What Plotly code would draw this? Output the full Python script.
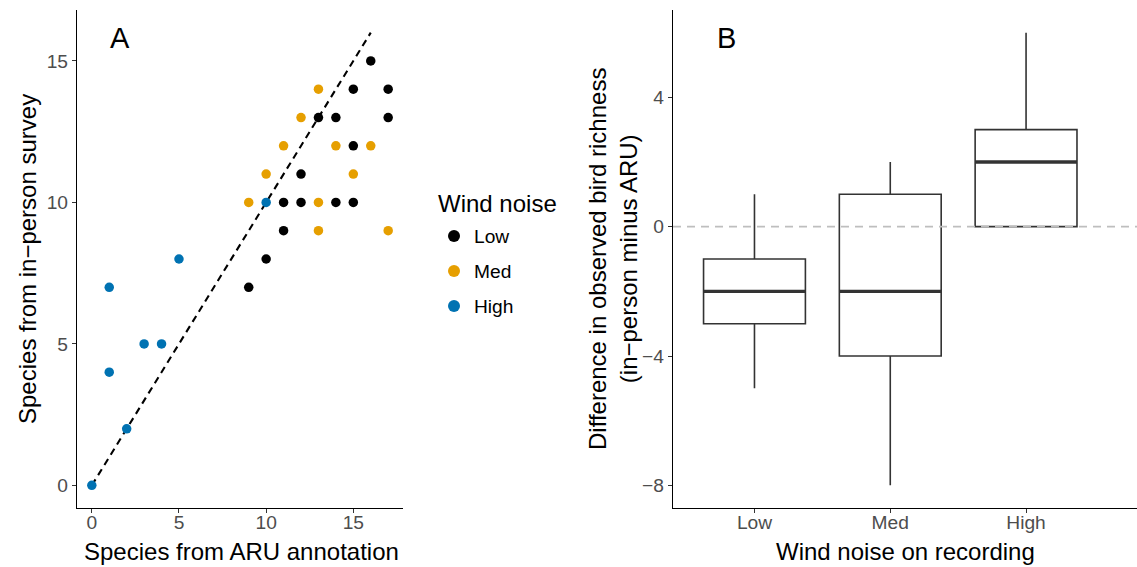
import plotly.graph_objects as go

# ---- Data: panel A (species counts) ----
low_aru = [16, 15, 17, 13, 14, 17, 15, 12, 11, 12, 14, 15, 11, 10, 9]
low_survey = [15, 14, 14, 13, 13, 13, 12, 11, 10, 10, 10, 10, 9, 8, 7]
med_aru = [13, 12, 11, 14, 16, 10, 15, 9, 13, 13, 17]
med_survey = [14, 13, 12, 12, 12, 11, 11, 10, 10, 9, 9]
high_aru = [10, 5, 1, 3, 4, 1, 2, 0]
high_survey = [10, 8, 7, 5, 5, 4, 2, 0]
ref_line = [0, 16]

# ---- Data: panel B (box statistics of difference) ----
wind_levels = ["Low", "Med", "High"]
box_lower = [-5, -8, 0]
box_q1 = [-3, -4, 0]
box_median = [-2, -2, 2]
box_q3 = [-1, 1, 3]
box_upper = [1, 2, 6]

FONT = "Liberation Sans, Arial, sans-serif"
W, H = 1137, 567
BOX_W = 0.75
TITLE_SIZE = 24
TICK_SIZE = 19.2

def px_x(p):
    return p / W

def px_y(p):
    return 1 - p / H

fig = go.Figure()

series = [
    ("Low", low_aru, low_survey, "#000000"),
    ("Med", med_aru, med_survey, "#E69F00"),
    ("High", high_aru, high_survey, "#0072B2"),
]

fig.add_trace(go.Scatter(
    x=ref_line, y=ref_line, mode="lines",
    line=dict(color="black", width=2.1, dash="7px,5px"),
    showlegend=False, xaxis="x", yaxis="y", hoverinfo="skip"))

for name, xs, ys, col in series:
    fig.add_trace(go.Scatter(
        x=xs, y=ys, mode="markers", name=name, legendgroup=name,
        marker=dict(color=col, size=9.5, line=dict(width=0)),
        xaxis="x", yaxis="y"))

# panel B boxes
fig.add_trace(go.Box(
    x=[1, 2, 3], q1=box_q1, median=box_median, q3=box_q3,
    lowerfence=box_lower, upperfence=box_upper,
    width=BOX_W, whiskerwidth=0, fillcolor="white",
    line=dict(color="#333333", width=1.6),
    boxpoints=False, showlegend=False, xaxis="x2", yaxis="y2", hoverinfo="skip"))

# thick median bars
for i, m in enumerate(box_median):
    xc = i + 1
    fig.add_trace(go.Scatter(
        x=[xc - BOX_W / 2, xc + BOX_W / 2], y=[m, m], mode="lines",
        line=dict(color="#333333", width=3.4),
        showlegend=False, xaxis="x2", yaxis="y2", hoverinfo="skip"))

axis_common = dict(
    showline=True, linecolor="black", linewidth=1.3, mirror=False,
    showgrid=False, zeroline=False, ticks="outside", ticklen=4,
    tickwidth=1.1, tickcolor="#333333",
    tickfont=dict(family=FONT, size=TICK_SIZE, color="#4D4D4D"),
)

def ann(text, x, y, size, angle=0, xanchor="center"):
    return dict(text=text, x=px_x(x), y=px_y(y), xref="paper", yref="paper",
                xanchor=xanchor, yanchor="middle", showarrow=False,
                textangle=angle, align="center",
                font=dict(family=FONT, size=size, color="black"))

fig.update_layout(
    width=W, height=H, autosize=False,
    margin=dict(l=0, r=0, t=0, b=0),
    paper_bgcolor="white", plot_bgcolor="white",
    font=dict(family=FONT),
    xaxis=dict(domain=[px_x(77), px_x(403)], range=[-0.85, 17.85],
               tickvals=[0, 5, 10, 15], anchor="y", ticklabelstandoff=-7,
               **axis_common),
    yaxis=dict(domain=[px_y(508), px_y(10)], range=[-0.8, 16.8],
               tickvals=[0, 5, 10, 15], anchor="x", **axis_common),
    xaxis2=dict(domain=[px_x(673), 1.0], range=[0.4, 3.817],
                tickvals=[1, 2, 3], ticktext=wind_levels, anchor="y2",
                ticklabelstandoff=-7, **axis_common),
    yaxis2=dict(domain=[px_y(508), px_y(10)], range=[-8.7, 6.7],
                tickvals=[-8, -4, 0, 4], anchor="x2", **axis_common),
    legend=dict(
        x=px_x(434), y=px_y(217), xanchor="left", yanchor="top",
        font=dict(family=FONT, size=TICK_SIZE, color="black"),
        traceorder="grouped", tracegroupgap=7, itemsizing="constant",
        bgcolor="rgba(0,0,0,0)",
    ),
    shapes=[dict(type="line", xref="x2 domain", yref="y2", x0=0, x1=1, y0=0, y1=0,
                 line=dict(color="#BEBEBE", width=1.6, dash="8px,6px"), layer="above")],
    annotations=[
        ann("A", 120, 38, 29),
        ann("B", 726, 38, 29),
        ann("Wind noise", 436, 203, TITLE_SIZE, xanchor="left"),
        ann("Species from ARU annotation", 241, 551, TITLE_SIZE),
        ann("Species from in\u2212person survey", 27, 259, TITLE_SIZE, -90),
        ann("Wind noise on recording", 905, 551, TITLE_SIZE),
        ann("Difference in observed bird richness<br>(in\u2212person minus ARU)",
            613, 259, TITLE_SIZE, -90),
    ],
)

fig.write_html("out.html")
